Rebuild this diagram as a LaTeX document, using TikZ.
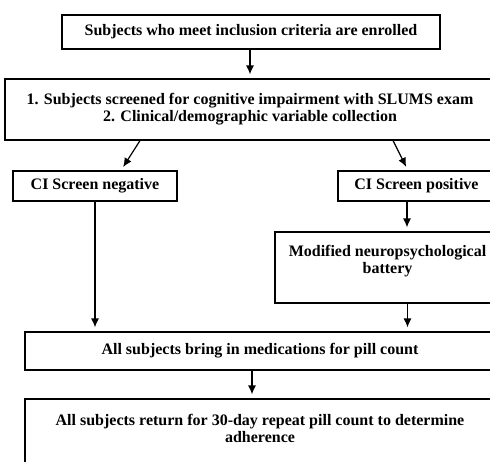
\documentclass[tikz,border=0pt]{standalone}
\usepackage{fontspec}
\setmainfont{Liberation Serif}
\usetikzlibrary{arrows.meta}

\begin{document}
\begin{tikzpicture}[x=1pt,y=-1pt,
    flowbox/.style={shape=rectangle,draw,line width=1.2pt,align=center,inner sep=2pt,
      font=\bfseries\fontsize{16}{17}\selectfont},
    flowarrow/.style={-{Latex[length=9pt,width=8pt]},line width=1.2pt,shorten >=4pt}]
    \useasboundingbox (0,0) rectangle (490,461);
    \node[flowbox,minimum width=378pt,minimum height=34pt] (enrol)    at (251,32)    {Subjects who meet inclusion criteria are enrolled};
    \node[flowbox,minimum width=490pt,minimum height=61pt] (screen)   at (250,109.5) {1. Subjects screened for cognitive impairment with SLUMS exam\\2. Clinical/demographic variable collection};
    \node[flowbox,minimum width=164pt,minimum height=30pt] (neg)      at (95,186)    {CI Screen negative};
    \node[flowbox,minimum width=157pt,minimum height=30pt] (pos)      at (416.5,186) {CI Screen positive};
    \node[flowbox,minimum width=225pt,minimum height=71pt] (battery)  at (387.5,267.5) {Modified neuropsychological\\battery\\\mbox{}};
    \node[flowbox,minimum width=470pt,minimum height=38pt] (pillcount) at (260,351)   {All subjects bring in medications for pill count};
    \node[flowbox,minimum width=470pt,minimum height=76pt] (repeat)   at (260,437)   {All subjects return for 30-day repeat pill count to determine\\adherence\\\mbox{}};
    % connectors
    \coordinate (posdrop) at ([xshift=-9.5pt]pos.south);
    \coordinate (batdrop) at ([xshift=20pt]battery.south);
    \coordinate (pilldrop) at ([xshift=-8pt]pillcount.south);
    \draw[flowarrow] ([xshift=-1pt]enrol.south) -- ([xshift=-1pt]enrol.south |- screen.north);
    \draw[flowarrow] ([xshift=-110pt]screen.south) -- ([xshift=26pt]neg.north);
    \draw[flowarrow] ([xshift=143pt]screen.south) -- ([xshift=-8.5pt]pos.north);
    \draw[flowarrow] (posdrop) -- (posdrop |- battery.north);
    \draw[flowarrow] (neg.south) -- (neg.south |- pillcount.north);
    \draw[flowarrow] (batdrop) -- (batdrop |- pillcount.north);
    \draw[flowarrow] (pilldrop) -- (pilldrop |- repeat.north);
\end{tikzpicture}
\end{document}
